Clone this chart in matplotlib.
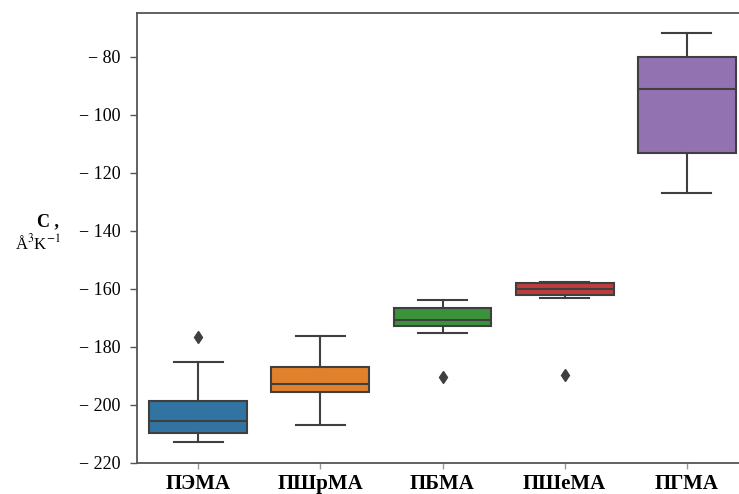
import matplotlib
matplotlib.use("Agg")
import matplotlib.pyplot as plt
from matplotlib.ticker import FuncFormatter

plt.rcParams["mathtext.fontset"] = "stix"

categories = ["ПЭМА", "ПШрМА", "ПБМА", "ПШеМА", "ПГМА"]
whislo = [-212.8, -207.0, -175.4, -163.1, -126.9]
q1 = [-209.9, -195.7, -172.9, -162.2, -113.1]
med = [-205.5, -193.0, -170.8, -160.2, -91.1]
q3 = [-198.7, -186.9, -166.8, -158.1, -80.2]
whishi = [-185.2, -176.2, -163.9, -157.6, -71.9]
fliers = [[-176.6], [], [-190.6], [-189.8], []]
colors = ["#3274a1", "#e1812c", "#3a923a", "#c03d3e", "#9372b2"]
yticks = [-80, -100, -120, -140, -160, -180, -200, -220]

fig = plt.figure(figsize=(7.39, 4.94), dpi=100)
ax = fig.add_axes([137/739, 30.7/494, (748-137)/739, (463.3-13.3)/494])

stats = []
for i, c in enumerate(categories):
    stats.append(dict(label=c, whislo=whislo[i], q1=q1[i], med=med[i],
                      q3=q3[i], whishi=whishi[i], fliers=fliers[i]))

line_c = "#3f3f3f"
bp = ax.bxp(stats, positions=range(len(categories)), widths=0.8,
            patch_artist=True, showfliers=True,
            boxprops=dict(edgecolor=line_c, linewidth=1.5),
            whiskerprops=dict(color=line_c, linewidth=1.5),
            capprops=dict(color=line_c, linewidth=1.5),
            medianprops=dict(color=line_c, linewidth=1.5),
            flierprops=dict(marker="d", markerfacecolor=line_c,
                            markeredgecolor=line_c, markersize=6))
for patch, col in zip(bp["boxes"], colors):
    patch.set_facecolor(col)

ax.set_xlim(-0.5, 4.5)
ax.set_ylim(-220.2, -65.0)
ax.set_yticks(yticks)
ax.yaxis.set_major_formatter(FuncFormatter(lambda v, p: "\u2212 %d" % abs(v)))
ax.set_xticks(range(len(categories)))
ax.set_xticklabels(categories, fontfamily="Liberation Serif",
                   fontweight="bold", fontsize=15)
for lab in ax.get_yticklabels():
    lab.set_fontfamily("Liberation Serif")
    lab.set_fontsize(13)
ax.tick_params(axis="y", direction="out", length=5, width=1.0,
               color="#555555", pad=7)
ax.tick_params(axis="x", direction="out", length=4, width=1.0,
               color="#999999", pad=4)
for s in ax.spines.values():
    s.set_color("#555555")
    s.set_linewidth(1.3)

fig.text(48/739, 1 - 222/494, "C ,", fontfamily="Liberation Serif",
         fontweight="bold", fontsize=13, ha="center", va="center")
fig.text(38/739, 1 - 243/494, "Å$^{3}$K$^{-1}$", fontfamily="Liberation Serif",
         fontsize=12, ha="center", va="center")

fig.savefig("out.png", dpi=100)
